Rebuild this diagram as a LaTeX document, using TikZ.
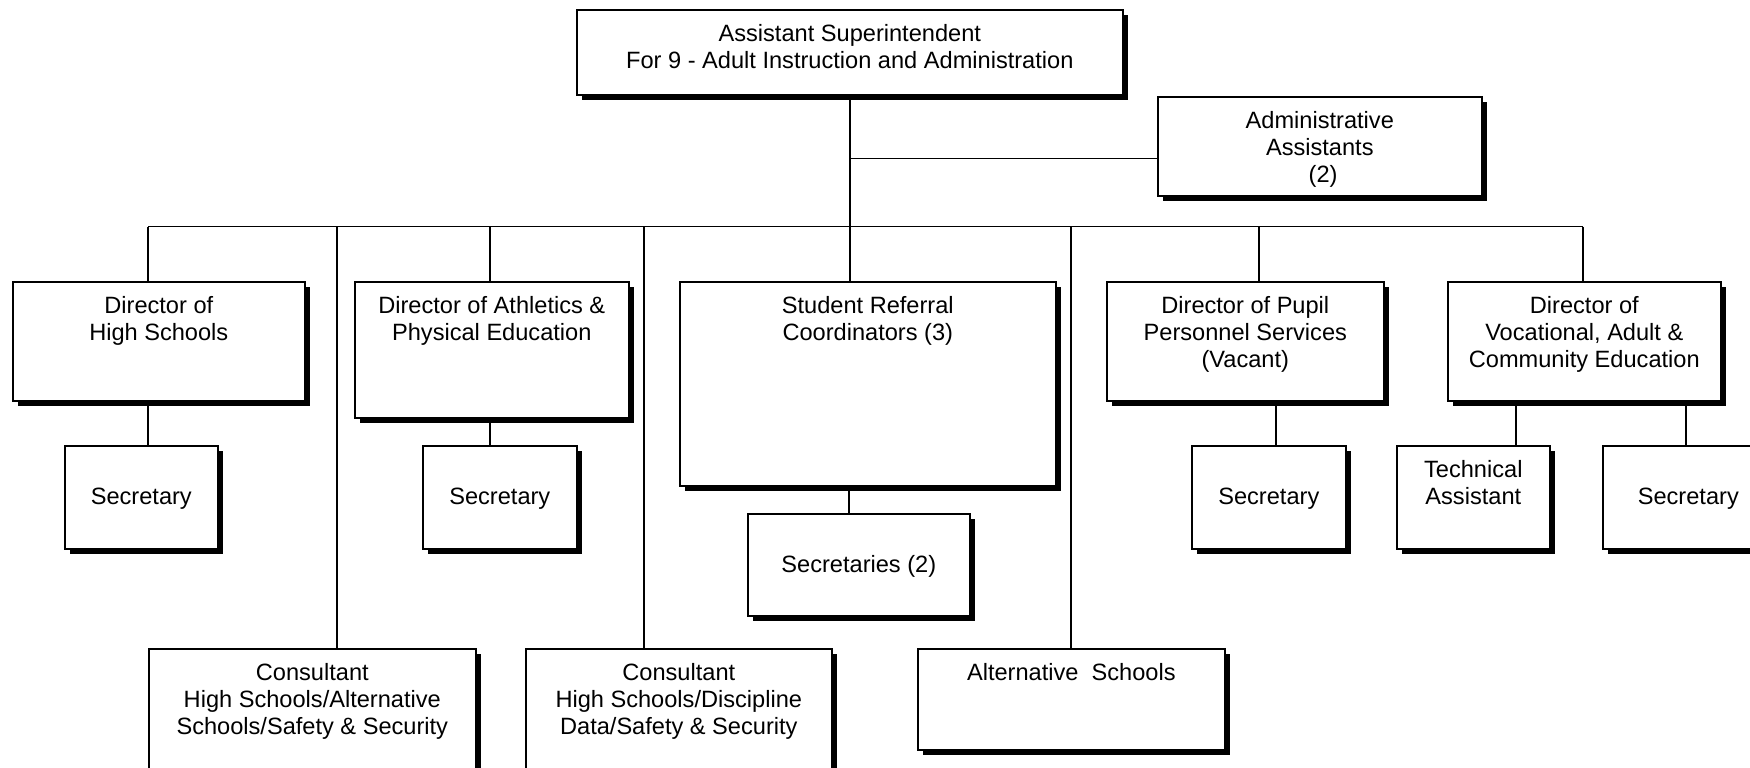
\documentclass[tikz,border=0pt]{standalone}
\usepackage{fontspec}
\setmainfont{Liberation Sans}
\usetikzlibrary{shadows,backgrounds}
% box: name, left, top, right, bottom (in px units)
\newcommand\orgbox[5]{%
  \node[orgbox, minimum width={(#4-#2)*0.5pt}, minimum height={(#5-#3)*0.5pt}] (#1) at (#2,#3) {};}
\begin{document}
\begin{tikzpicture}[x=0.5pt,y=-0.5pt,
  orgbox/.style={draw=black, line width=0.8pt, fill=white, inner sep=0pt,
    anchor=north west,
    drop shadow={shadow xshift=2.6pt, shadow yshift=-2.8pt, opacity=1, fill=black, draw=none}},
  lbl/.style={font=\fontsize{11.8}{13.4}\selectfont, align=center, inner sep=0pt},
  toplbl/.style={lbl, anchor=north, yshift=-7.5pt},
  midlbl/.style={lbl, text height=0.72em, text depth=0pt},
  conn/.style={draw=black, line width=0.75pt}]
\useasboundingbox (0,0) rectangle (1750,767);
\clip (0,0) rectangle (1750,767);

% boxes
\orgbox{top}{576}{9}{1122}{94}
\orgbox{adm}{1157}{96}{1481}{195}
\orgbox{dhs}{12}{281}{304}{400}
\orgbox{ath}{354}{281}{628}{417}
\orgbox{src}{679}{281}{1055}{485}
\orgbox{pps}{1106}{281}{1383}{400}
\orgbox{voc}{1447}{281}{1720}{400}
\orgbox{sa}{64}{445}{217}{548}
\orgbox{sb}{422}{445}{576}{548}
\orgbox{sc}{747}{513}{969}{615}
\orgbox{sd}{1191}{445}{1345}{548}
\orgbox{tech}{1396}{445}{1549}{548}
\orgbox{se}{1602}{445}{1765}{548}
\orgbox{cona}{148}{648}{475}{800}
\orgbox{conb}{525}{648}{831}{800}
\orgbox{alt}{917}{648}{1224}{749}

% texts
\node[toplbl] (top-t) at (top.north) {Assistant Superintendent\\For 9 - Adult Instruction and Administration};
\node[toplbl] (adm-t) at (adm.north) {Administrative\\Assistants\\\ (2)};
\node[toplbl] (dhs-t) at (dhs.north) {Director of\\High Schools};
\node[toplbl] (ath-t) at (ath.north) {Director of Athletics \&\\Physical Education};
\node[toplbl] (src-t) at (src.north) {Student Referral\\Coordinators (3)};
\node[toplbl] (pps-t) at (pps.north) {Director of Pupil\\Personnel Services\\(Vacant)};
\node[toplbl] (voc-t) at (voc.north) {Director of\\Vocational, Adult \&\\Community Education};
\node[toplbl] (tech-t) at (tech.north) {Technical\\Assistant};
\node[toplbl] (cona-t) at (cona.north) {Consultant\\High Schools/Alternative\\Schools/Safety \& Security};
\node[toplbl] (conb-t) at (conb.north) {Consultant\\High Schools/Discipline\\Data/Safety \& Security};
\node[toplbl] (alt-t) at (alt.north) {Alternative\ \ Schools};
\node[midlbl] (sa-t) at (sa) {Secretary};
\node[midlbl] (sb-t) at (sb) {Secretary};
\node[midlbl] (sc-t) at (sc) {Secretaries (2)};
\node[midlbl] (sd-t) at (sd) {Secretary};
\node[midlbl] (se-t) at ([xshift=2pt]se) {Secretary};

% junction points of the connector lines
\coordinate (trunk) at (849,226.6);
\coordinate (admj) at (849,158.5);
\coordinate (d1) at (148,226.6);
\coordinate (d2) at (337,226.6);
\coordinate (d3) at (490,226.6);
\coordinate (d4) at (644,226.6);
\coordinate (d6) at (1071,226.6);
\coordinate (d7) at (1259,226.6);
\coordinate (d8) at (1583,226.6);
\coordinate (l4) at (1276,0);
\coordinate (l5) at (1516,0);
\coordinate (l6) at (1686,0);

\begin{scope}[on background layer]
  \draw[conn] (top.south) -- (top.south |- src.north);
  \draw[conn] (admj) -- (admj -| adm.west);
  \draw[conn] (d1) -- (d8);
  \draw[conn] (d1) -- (d1 |- dhs.north);
  \draw[conn] (d2) -- (d2 |- cona.north);
  \draw[conn] (d3) -- (d3 |- ath.north);
  \draw[conn] (d4) -- (d4 |- conb.north);
  \draw[conn] (d6) -- (d6 |- alt.north);
  \draw[conn] (d7) -- (d7 |- pps.north);
  \draw[conn] (d8) -- (d8 |- voc.north);
  \draw[conn] (d1 |- dhs.south) -- (d1 |- sa.north);
  \draw[conn] (d3 |- ath.south) -- (d3 |- sb.north);
  \draw[conn] (trunk |- src.south) -- (trunk |- sc.north);
  \draw[conn] (l4 |- pps.south) -- (l4 |- sd.north);
  \draw[conn] (l5 |- voc.south) -- (l5 |- tech.north);
  \draw[conn] (l6 |- voc.south) -- (l6 |- se.north);
\end{scope}
\end{tikzpicture}
\end{document}
